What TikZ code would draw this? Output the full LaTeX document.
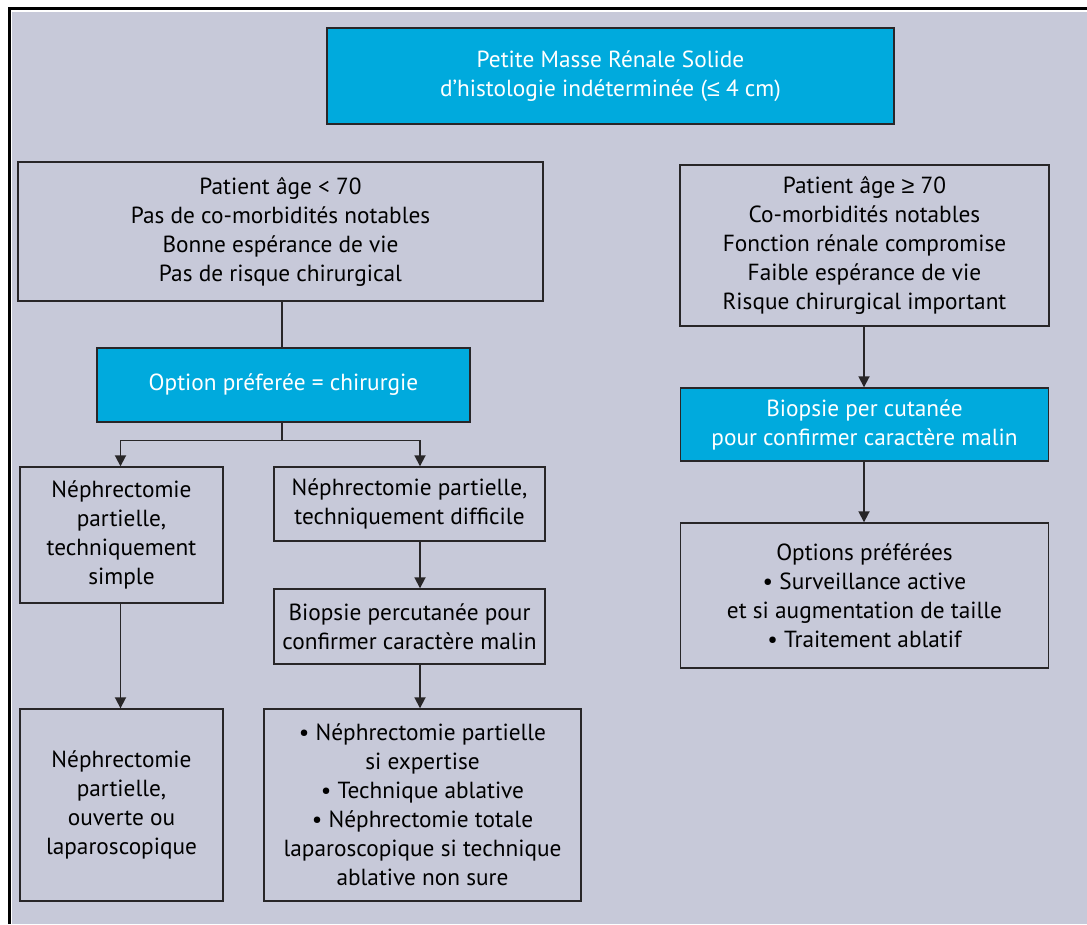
\documentclass[tikz,border=0pt]{standalone}
\usepackage{fontspec}
\setmainfont{PT Sans}
\newfontfamily\symfont{Liberation Sans}
\usepackage{tikz}
\usetikzlibrary{arrows.meta}
\definecolor{pmrgray}{RGB}{199, 201, 217}
\definecolor{pmrcyan}{RGB}{0, 170, 221}
\definecolor{pmrline}{RGB}{40, 38, 40}

\begin{document}
\begin{tikzpicture}[x=1pt, y=-1pt,
    box/.style={draw=pmrline, line width=1.4pt, fill=pmrgray, inner sep=0pt,
        align=center, font=\fontsize{23.3}{29}\selectfont, text=black},
    keybox/.style={box, fill=pmrcyan, text=white},
    link/.style={draw=pmrline, line width=1.8pt},
    arr/.style={link, -{Triangle[length=11pt, width=11pt]}}]
        % Frame and background
        \useasboundingbox (0,0) rectangle (1087,924);
        \fill[white] (0,0) rectangle (1087,924);
        \fill[pmrgray] (12,12) rectangle (1087,924);
        \draw[line width=3.5pt] (9.5,924) -- (9.5,8.5) -- (1087,8.5);

        % Boxes
        \node[keybox, minimum width=567, minimum height=96] (mass) at (610.5,76)
            {Petite Masse Rénale Solide\\d’histologie indéterminée ({\symfont ≤} 4 cm)};
        \node[box, minimum width=525, minimum height=139] (young) at (280.5,231.5)
            {Patient âge < 70\\Pas de co-morbidités notables\\Bonne espérance de vie\\Pas de risque chirurgical};
        \node[box, minimum width=369, minimum height=161] (old) at (864.5,245.5)
            {Patient âge {\symfont ≥} 70\\Co-morbidités notables\\Fonction rénale compromise\\Faible espérance de vie\\Risque chirurgical important};
        \node[keybox, minimum width=373, minimum height=74] (surgery) at (283.5,385)
            {Option préferée = chirurgie};
        \node[keybox, minimum width=368, minimum height=73] (biopsyR) at (864.5,424.5)
            {Biopsie per cutanée\\pour confirmer caractère malin};
        \node[box, minimum width=203, minimum height=136] (simple) at (121.5,535)
            {Néphrectomie\\partielle,\\techniquement\\simple};
        \node[box, minimum width=271, minimum height=74] (hard) at (409.5,504)
            {Néphrectomie partielle,\\techniquement difficile};
        \node[box, minimum width=271, minimum height=75] (biopsyL) at (409.5,626.5)
            {Biopsie percutanée pour\\confirmer caractère malin};
        \node[box, minimum width=368, minimum height=145] (options) at (864.5,595.5)
            {Options préférées\\• Surveillance active\\et si augmentation de taille\\• Traitement ablatif};
        \node[box, minimum width=203, minimum height=192] (open) at (121.5,805)
            {Néphrectomie\\partielle,\\ouverte ou\\laparoscopique};
        \node[box, minimum width=317, minimum height=192] (choices) at (422.5,805)
            {• Néphrectomie partielle\\si expertise\\• Technique ablative\\• Néphrectomie totale\\laparoscopique si technique\\ablative non sure};

        % Connectors
        \coordinate (fork) at (282,440.5);
        \draw[link] (young.south -| 282,0) -- (surgery.north -| 282,0);
        \draw[link] (surgery.south -| fork) -- (fork);
        \draw[arr] (fork) -| (simple.north -| 120.5,0);
        \draw[arr] (fork) -| (hard.north -| 420,0);
        \draw[arr] (hard.south -| 420,0) -- (biopsyL.north -| 420,0);
        \draw[arr] (biopsyL.south -| 420,0) -- (choices.north -| 420,0);
        \draw[arr] (simple.south -| 120.5,0) -- (open.north -| 120.5,0);
        \draw[arr] (old.south -| 864,0) -- (biopsyR.north -| 864,0);
        \draw[arr] (biopsyR.south -| 864,0) -- (options.north -| 864,0);
\end{tikzpicture}
\end{document}
